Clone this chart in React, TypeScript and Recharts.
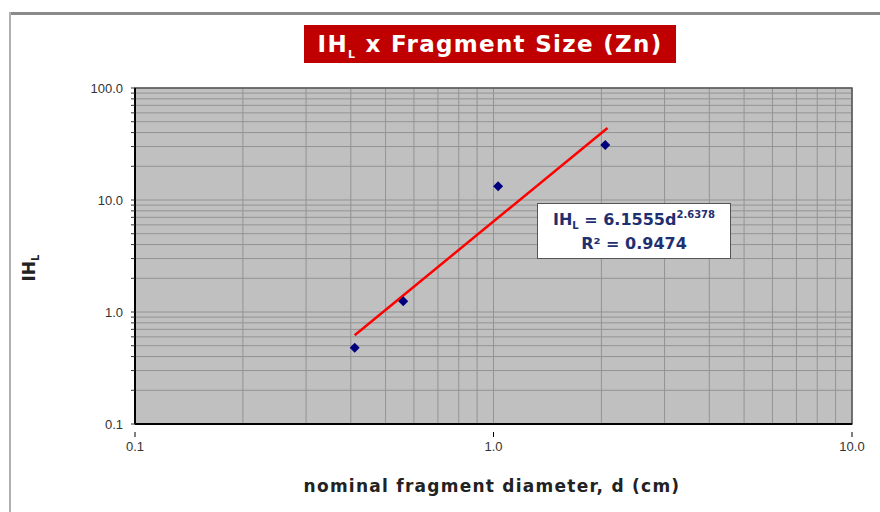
import React from 'react';
import { ComposedChart, Scatter, Line, XAxis, YAxis, CartesianGrid, ReferenceArea } from 'recharts';

const diameters = [0.41, 0.56, 1.03, 2.05];
const ihlValues = [0.48, 1.25, 13.3, 31];
const trendX = [0.41, 2.08];
const trendY = [0.62, 44];
const xTicks = [0.1, 0.2, 0.3, 0.4, 0.5, 0.6, 0.7, 0.8, 0.9, 1, 2, 3, 4, 5, 6, 7, 8, 9, 10];
const yTicks = [0.1, 0.2, 0.3, 0.4, 0.5, 0.6, 0.7, 0.8, 0.9, 1, 2, 3, 4, 5, 6, 7, 8, 9, 10, 20, 30, 40, 50, 60, 70, 80, 90, 100];
const majorTicks = [0.1, 1, 10, 100];

const points = diameters.map((d, i) => ({ d, ihl: ihlValues[i] }));
const trend = trendX.map((d, i) => ({ d, fit: trendY[i] }));

const isMajor = (v: number) => majorTicks.some((m) => Math.abs(m - v) < 1e-9);

const XTick = (props: any) => {
  const { x, y, payload } = props;
  if (!isMajor(payload.value)) return null;
  return (
    <g>
      <line x1={x} x2={x} y1={y} y2={y + 5} stroke="#000" strokeWidth={1} />
      <text x={x} y={y + 19} textAnchor="middle" fontSize={13} fill="#333" fontFamily="Liberation Sans, Arial, sans-serif">
        {payload.value.toFixed(1)}
      </text>
    </g>
  );
};

const Diamond = (props: any) => {
  const { cx, cy } = props;
  const r = 5;
  return <polygon points={`${cx},${cy - r} ${cx + r},${cy} ${cx},${cy + r} ${cx - r},${cy}`} fill="#00007f" />;
};

const bold = 'DejaVu Sans, sans-serif';

export default function App() {
  return (
    <div style={{ position: 'absolute', left: 0, top: 0, width: 880, height: 512, background: '#fff', overflow: 'hidden' }}>
      <div style={{ position: 'absolute', left: 9, top: 12, width: 880, height: 3, background: '#8a8a8a' }} />
      <div style={{ position: 'absolute', left: 9, top: 12, width: 1.5, height: 510, background: '#b0b0b0' }} />
      <ComposedChart width={880} height={512} margin={{ top: 88, right: 28, bottom: 58, left: 75 }} style={{ position: 'absolute', left: 0, top: 0 }}>
        <CartesianGrid stroke="#939393" strokeWidth={1} fill="#c0c0c0" fillOpacity={1} />
        <XAxis
          dataKey="d"
          type="number"
          scale="log"
          domain={[0.1, 10]}
          ticks={xTicks}
          interval={0}
          allowDataOverflow
          tick={<XTick />}
          tickLine={false}
          axisLine={{ stroke: '#000', strokeWidth: 2 }}
          height={30}
        />
        <YAxis
          type="number"
          scale="log"
          domain={[0.1, 100]}
          ticks={yTicks}
          interval={0}
          allowDataOverflow
          width={60}
          tickSize={4}
          tickMargin={8}
          tickLine={{ stroke: '#333' }}
          axisLine={{ stroke: '#000', strokeWidth: 2 }}
          tick={{ fontSize: 13, fill: '#333', fontFamily: 'Liberation Sans, Arial, sans-serif' }}
          tickFormatter={(v: number) => (isMajor(v) ? v.toFixed(1) : '')}
        />
        <ReferenceArea x1={0.1} x2={10} y1={0.1} y2={100} fill="none" stroke="#555" strokeWidth={1.5} ifOverflow="visible" />
        <Line data={trend} dataKey="fit" stroke="#ff0000" strokeWidth={2.5} dot={false} isAnimationActive={false} />
        <Scatter data={points} dataKey="ihl" shape={<Diamond />} isAnimationActive={false} />
      </ComposedChart>
      <div style={{ position: 'absolute', left: 304, top: 25, width: 372, height: 38, background: '#c00000', color: '#fff', fontFamily: bold, fontWeight: 700, fontSize: 23, lineHeight: '38px', textAlign: 'center', whiteSpace: 'nowrap', letterSpacing: 1.3 }}>
        IH<sub style={{ fontSize: 11, verticalAlign: 'baseline', position: 'relative', top: 6 }}>L</sub> x Fragment Size (Zn)
      </div>
      <div style={{ position: 'absolute', left: 537, top: 203, width: 194, height: 56, background: '#fff', border: '1px solid #555', boxSizing: 'border-box', color: '#1f3070', fontFamily: bold, fontWeight: 700, fontSize: 16, lineHeight: '22px', textAlign: 'center', paddingTop: 5, whiteSpace: 'nowrap' }}>
        <div>IH<sub style={{ fontSize: 10, verticalAlign: 'baseline', position: 'relative', top: 4 }}>L</sub> = 6.1555d<sup style={{ fontSize: 10, verticalAlign: 'baseline', position: 'relative', top: -7 }}>2.6378</sup></div>
        <div>R² = 0.9474</div>
      </div>
      <div style={{ position: 'absolute', left: 142, top: 476, width: 700, textAlign: 'center', fontFamily: bold, fontWeight: 700, fontSize: 17, color: '#222', letterSpacing: 1.25, whiteSpace: 'nowrap' }}>
        nominal fragment diameter, d (cm)
      </div>
      <div style={{ position: 'absolute', left: 2, top: 255, width: 60, height: 26, transform: 'rotate(-90deg)', textAlign: 'center', fontFamily: bold, fontWeight: 700, fontSize: 17, color: '#222' }}>
        IH<sub style={{ fontSize: 10, verticalAlign: 'baseline', position: 'relative', top: 4 }}>L</sub>
      </div>
    </div>
  );
}
